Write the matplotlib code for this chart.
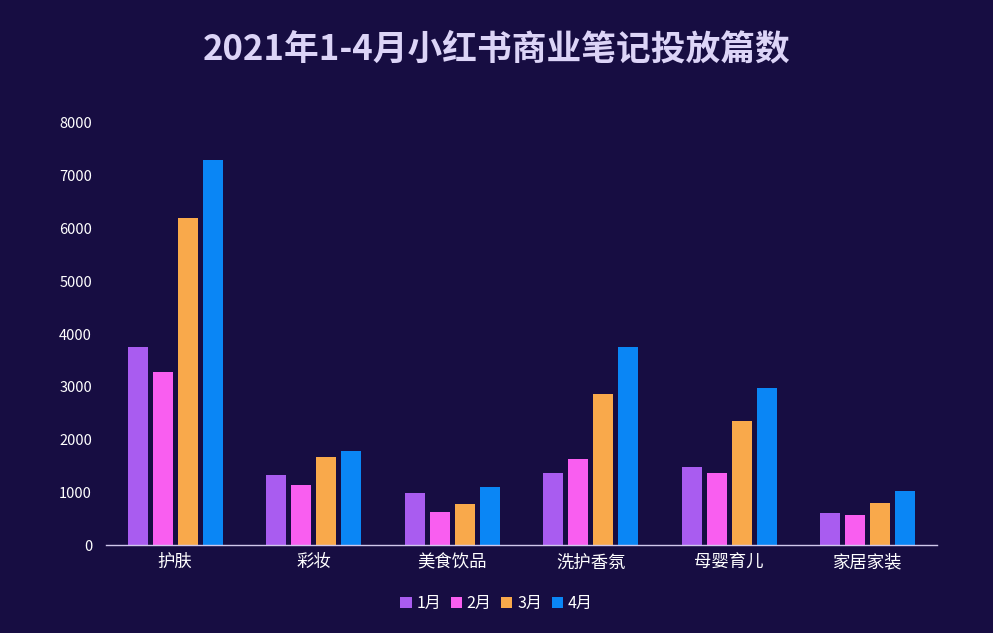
import matplotlib
matplotlib.use("Agg")
import matplotlib.pyplot as plt
import numpy as np

plt.rcParams['font.family'] = ['Noto Sans CJK SC', 'DejaVu Sans']

categories = ["护肤", "彩妆", "美食饮品", "洗护香氛", "母婴育儿", "家居家装"]
series_names = ["1月", "2月", "3月", "4月"]
jan = [3760, 1330, 990, 1370, 1480, 610]
feb = [3280, 1140, 630, 1630, 1370, 570]
mar = [6200, 1670, 780, 2860, 2350, 800]
apr = [7290, 1790, 1100, 3760, 2980, 1030]
colors = ["#a95cf0", "#f95ef0", "#f9a94b", "#0a86f5"]
yticks = [0, 1000, 2000, 3000, 4000, 5000, 6000, 7000, 8000]

bg = "#170d42"
fig = plt.figure(figsize=(9.93, 6.33), dpi=100, facecolor=bg)
ax = fig.add_axes([0.1067, 0.139, 0.8369, 0.6667], facecolor=bg)

x = np.arange(len(categories))
width = 0.145
pitch = 0.18
for i, (vals, name, c) in enumerate(zip([jan, feb, mar, apr], series_names, colors)):
    ax.bar(x + (i - 1.5) * pitch, vals, width, color=c, label=name)

ax.set_xlim(-0.5, len(categories) - 0.5)
ax.set_ylim(0, 8000)
ax.set_yticks(yticks)
ax.set_yticklabels([str(v) for v in yticks], color="white", fontsize=10.5)
ax.set_xticks(x)
ax.set_xticklabels(categories, color="white", fontsize=12.5)
ax.tick_params(axis='both', length=0)
ax.tick_params(axis='x', pad=6)
ax.tick_params(axis='y', pad=10)
for s in ["top", "right", "left"]:
    ax.spines[s].set_visible(False)
ax.spines["bottom"].set_color("#d0c8ec")
ax.spines["bottom"].set_linewidth(1.0)

fig.text(0.5, 0.922, "2021年1-4月小红书商业笔记投放篇数", ha="center", va="center",
         color="#dcd4f7", fontsize=25, fontweight="bold")

leg = fig.legend(loc="center", bbox_to_anchor=(0.5, 0.047), ncol=4, frameon=False,
                 handlelength=0.7, handleheight=0.7, handletextpad=0.3, columnspacing=0.6,
                 fontsize=11.5, labelcolor="white")

fig.savefig("out.png", dpi=100, facecolor=bg)
